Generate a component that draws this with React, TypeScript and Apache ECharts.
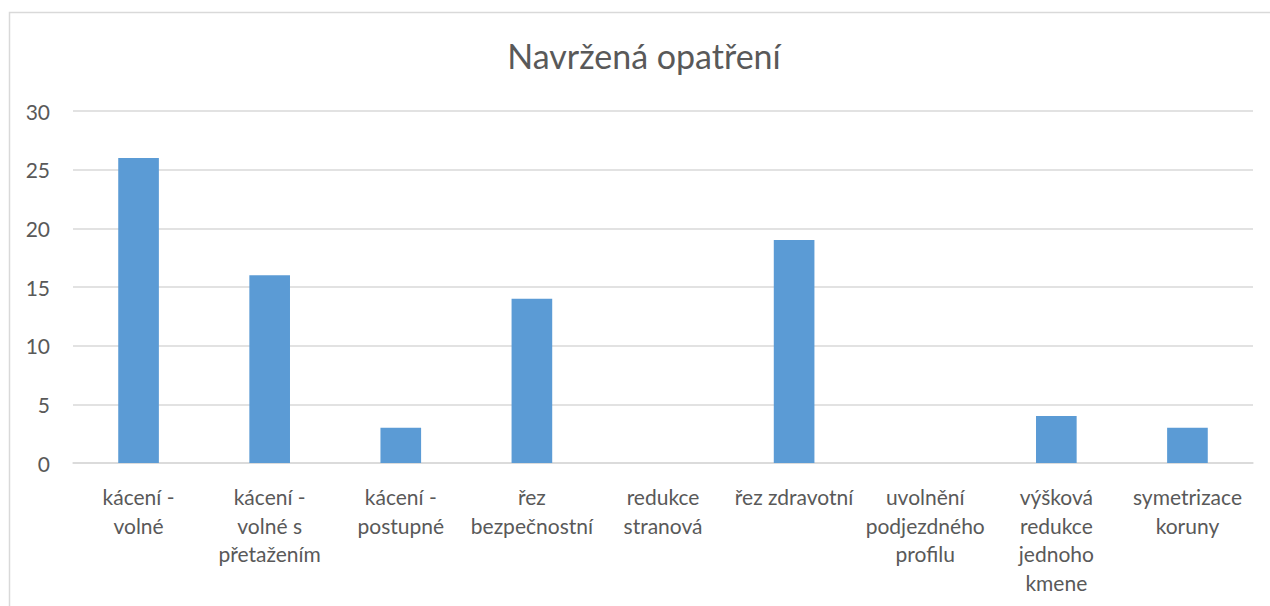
import React, { useEffect, useRef } from "react";
import * as echarts from "echarts";

const title = "Navržená opatření";
const categories = [
  "kácení -\nvolné",
  "kácení -\nvolné s\npřetažením",
  "kácení -\npostupné",
  "řez\nbezpečnostní",
  "redukce\nstranová",
  "řez zdravotní",
  "uvolnění\npodjezdného\nprofilu",
  "výšková\nredukce\njednoho\nkmene",
  "symetrizace\nkoruny",
];
const values = [26, 16, 3, 14, 0, 19, 0, 4, 3];

export default function App() {
  const ref = useRef<HTMLDivElement>(null);
  useEffect(() => {
    const chart = echarts.init(ref.current!, null, { renderer: "svg" });
    const font = "Lato, 'Open Sans', sans-serif";
    chart.setOption({
      animation: false,
      backgroundColor: "#ffffff",
      title: {
        text: title,
        left: 639,
        textAlign: "center",
        top: 33,
        textStyle: { fontFamily: font, fontSize: 34, fontWeight: "normal", color: "#595959" },
      },
      graphic: [
        {
          type: "rect",
          shape: { x: 9.5, y: 12.5, width: 1400, height: 800 },
          style: { fill: "none", stroke: "#d9d9d9", lineWidth: 1.5 },
          silent: true,
        },
      ],
      grid: { left: 73, right: 17, top: 111, bottom: 143, containLabel: false },
      xAxis: {
        type: "category",
        data: categories,
        axisLine: { show: true, lineStyle: { color: "#d9d9d9", width: 1.5 } },
        axisTick: { show: false },
        axisLabel: {
          interval: 0,
          margin: 19,
          fontFamily: font,
          fontSize: 21,
          lineHeight: 28.7,
          color: "#595959",
        },
      },
      yAxis: {
        type: "value",
        min: 0,
        max: 30,
        interval: 5,
        axisLine: { show: false },
        axisTick: { show: false },
        splitLine: { lineStyle: { color: "#d9d9d9", width: 1.5 } },
        axisLabel: { margin: 23, fontFamily: font, fontSize: 21, color: "#595959" },
      },
      series: [
        {
          type: "bar",
          data: values,
          barWidth: "31%",
          itemStyle: { color: "#5b9bd5" },
        },
      ],
    });
    return () => chart.dispose();
  }, []);
  return (
    <div
      ref={ref}
      style={{ position: "fixed", left: 0, top: 0, width: 1270, height: 606 }}
    />
  );
}
